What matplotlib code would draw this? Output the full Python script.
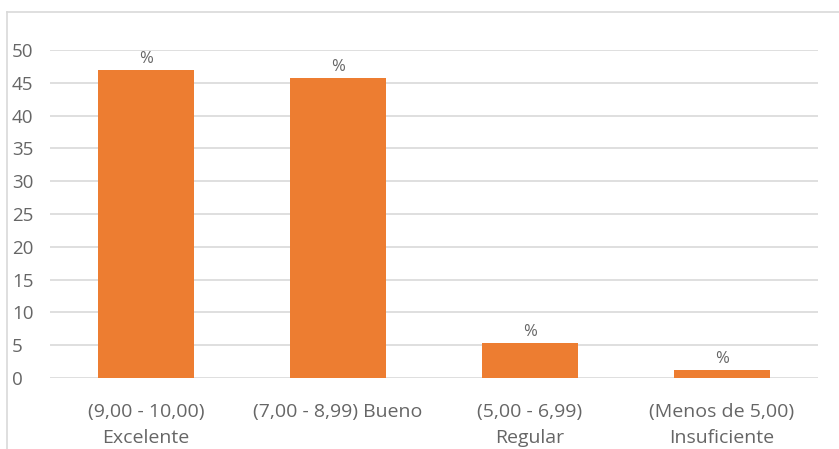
import matplotlib
matplotlib.use("Agg")
import matplotlib.pyplot as plt
from matplotlib.lines import Line2D

categories = ["(9,00 - 10,00)\nExcelente", "(7,00 - 8,99) Bueno",
              "(5,00 - 6,99)\nRegular", "(Menos de 5,00)\nInsuficiente"]
values = [47.0, 45.8, 5.3, 1.2]
bar_labels = ["%", "%", "%", "%"]
yticks = [0, 5, 10, 15, 20, 25, 30, 35, 40, 45, 50]

plt.rcParams['font.family'] = ['Open Sans', 'DejaVu Sans']

W, H = 839, 449
fig = plt.figure(figsize=(W / 100, H / 100), dpi=100)
ax = fig.add_axes([50 / W, (H - 378) / H, (818 - 50) / W, (378 - 50) / H])

text_color = "#666666"
grid_color = "#d9d9d9"

x = list(range(len(categories)))
bars = ax.bar(x, values, width=0.495, color="#ED7D31", zorder=3)
for b, lab in zip(bars, bar_labels):
    ax.annotate(lab, (b.get_x() + b.get_width() / 2, b.get_height()),
                xytext=(0, 2), textcoords="offset points",
                ha="center", va="bottom", fontsize=12, color=text_color)

ax.set_xlim(-0.5, len(categories) - 0.5)
ax.set_ylim(0, 50)
ax.set_yticks(yticks)
ax.set_xticks(x)
ax.set_xticklabels(categories, fontsize=14, color=text_color, linespacing=1.6)
ax.tick_params(axis="y", labelsize=13.5, labelcolor=text_color, length=0, pad=27.5)
ax.tick_params(axis="x", length=0, pad=18)
for lbl in ax.get_yticklabels():
    lbl.set_horizontalalignment("left")
ax.yaxis.grid(True, color=grid_color, linewidth=1.2, zorder=0)
ax.set_axisbelow(True)
for s in ax.spines.values():
    s.set_visible(False)

# outer chart frame (top and left edges visible)
fig.add_artist(Line2D([7 / W, 1], [1 - 12 / H, 1 - 12 / H], color=grid_color, linewidth=1.2))
fig.add_artist(Line2D([7 / W, 7 / W], [0, 1 - 12 / H], color=grid_color, linewidth=1.2))

fig.savefig("out.png", dpi=100)
